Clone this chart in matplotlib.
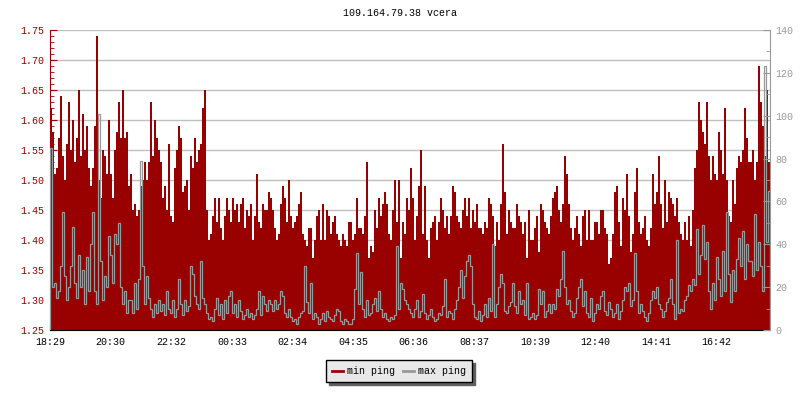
import matplotlib
matplotlib.use("Agg")
import matplotlib.pyplot as plt
import numpy as np

plt.rcParams['font.family'] = ['Liberation Mono', 'DejaVu Sans Mono']

title = "109.164.79.38 vcera"
start_label = "18:29"
tick_labels = ["18:29", "20:30", "22:32", "00:33", "02:34", "04:35",
               "06:36", "08:37", "10:39", "12:40", "14:41", "16:42"]
step_min = 4  # one sample every 4 minutes, 24 hours

# min ping (left axis)
min_ping = [
    1.62, 1.58, 1.51, 1.52, 1.57, 1.64, 1.54, 1.50, 1.56, 1.63,
    1.55, 1.60, 1.53, 1.57, 1.65, 1.54, 1.61, 1.55, 1.59, 1.52,
    1.49, 1.52, 1.59, 1.74, 1.50, 1.47, 1.55, 1.54, 1.51, 1.60,
    1.51, 1.47, 1.55, 1.58, 1.63, 1.57, 1.65, 1.57, 1.58, 1.49,
    1.51, 1.45, 1.46, 1.44, 1.45, 1.49, 1.50, 1.53, 1.50, 1.53,
    1.63, 1.54, 1.60, 1.57, 1.55, 1.53, 1.47, 1.49, 1.45, 1.56,
    1.44, 1.43, 1.52, 1.55, 1.59, 1.57, 1.48, 1.49, 1.50, 1.45,
    1.54, 1.52, 1.57, 1.53, 1.55, 1.56, 1.62, 1.65, 1.45, 1.40,
    1.41, 1.44, 1.47, 1.43, 1.47, 1.42, 1.40, 1.44, 1.47, 1.45,
    1.43, 1.47, 1.45, 1.46, 1.43, 1.46, 1.47, 1.42, 1.45, 1.44,
    1.46, 1.40, 1.44, 1.51, 1.43, 1.42, 1.46, 1.45, 1.45, 1.48,
    1.47, 1.45, 1.42, 1.40, 1.41, 1.46, 1.49, 1.47, 1.43, 1.50,
    1.44, 1.42, 1.43, 1.44, 1.46, 1.48, 1.41, 1.40, 1.39, 1.42,
    1.42, 1.37, 1.40, 1.44, 1.45, 1.40, 1.46, 1.40, 1.45, 1.44,
    1.41, 1.43, 1.44, 1.41, 1.40, 1.39, 1.41, 1.40, 1.39, 1.43,
    1.43, 1.40, 1.41, 1.47, 1.42, 1.42, 1.41, 1.44, 1.53, 1.37,
    1.39, 1.38, 1.45, 1.42, 1.47, 1.44, 1.46, 1.48, 1.46, 1.41,
    1.40, 1.45, 1.50, 1.43, 1.50, 1.37, 1.43, 1.41, 1.47, 1.45,
    1.52, 1.47, 1.40, 1.44, 1.49, 1.55, 1.41, 1.49, 1.40, 1.37,
    1.42, 1.43, 1.44, 1.40, 1.43, 1.47, 1.45, 1.42, 1.44, 1.41,
    1.44, 1.49, 1.48, 1.44, 1.43, 1.42, 1.45, 1.47, 1.44, 1.47,
    1.42, 1.45, 1.43, 1.46, 1.42, 1.42, 1.41, 1.43, 1.42, 1.47,
    1.46, 1.44, 1.39, 1.43, 1.40, 1.46, 1.56, 1.48, 1.41, 1.45,
    1.43, 1.42, 1.42, 1.46, 1.44, 1.43, 1.41, 1.43, 1.37, 1.45,
    1.40, 1.40, 1.42, 1.44, 1.38, 1.46, 1.45, 1.43, 1.42, 1.41,
    1.44, 1.47, 1.48, 1.49, 1.45, 1.43, 1.46, 1.54, 1.51, 1.46,
    1.42, 1.40, 1.42, 1.44, 1.41, 1.39, 1.44, 1.45, 1.40, 1.45,
    1.40, 1.40, 1.43, 1.43, 1.41, 1.45, 1.45, 1.42, 1.41, 1.36,
    1.37, 1.41, 1.48, 1.49, 1.43, 1.39, 1.47, 1.45, 1.51, 1.44,
    1.38, 1.41, 1.48, 1.52, 1.43, 1.41, 1.42, 1.44, 1.40, 1.39,
    1.42, 1.51, 1.46, 1.48, 1.54, 1.46, 1.42, 1.50, 1.43, 1.48,
    1.47, 1.46, 1.44, 1.47, 1.43, 1.41, 1.40, 1.43, 1.40, 1.44,
    1.39, 1.45, 1.52, 1.55, 1.63, 1.60, 1.58, 1.56, 1.63, 1.54,
    1.50, 1.54, 1.51, 1.50, 1.58, 1.55, 1.51, 1.62, 1.50, 1.44,
    1.43, 1.50, 1.46, 1.52, 1.54, 1.53, 1.55, 1.62, 1.57, 1.53,
    1.53, 1.55, 1.50, 1.53, 1.69, 1.63, 1.59, 1.54, 1.65, 1.53,
]

# max ping (right axis)
max_ping = [
    85, 20, 22, 15, 18, 30, 55, 25, 14, 20,
    30, 48, 22, 15, 35, 20, 28, 12, 34, 18,
    40, 55, 18, 12, 101, 32, 14, 25, 20, 44,
    35, 22, 45, 40, 50, 20, 12, 18, 8, 14,
    14, 8, 22, 10, 24, 79, 30, 12, 25, 15,
    10, 6, 12, 8, 14, 9, 12, 7, 18, 10,
    8, 14, 6, 10, 24, 12, 7, 14, 9, 11,
    30, 26, 16, 12, 10, 32, 15, 12, 8, 5,
    6, 4, 10, 15, 7, 12, 5, 14, 8, 16,
    18, 8, 12, 6, 14, 9, 5, 7, 10, 6,
    8, 5, 7, 10, 18, 7, 16, 12, 9, 14,
    12, 9, 14, 10, 12, 18, 16, 8, 6, 10,
    6, 4, 5, 3, 6, 8, 9, 30, 13, 8,
    22, 5, 8, 6, 3, 5, 8, 4, 9, 6,
    5, 4, 7, 10, 9, 4, 3, 5, 4, 3,
    3, 5, 19, 36, 12, 27, 10, 6, 14, 7,
    8, 12, 15, 9, 18, 10, 6, 8, 5, 4,
    6, 5, 7, 39, 10, 22, 19, 14, 12, 10,
    8, 6, 10, 14, 6, 9, 17, 8, 5, 7,
    10, 6, 4, 5, 8, 7, 11, 24, 6, 9,
    8, 5, 10, 14, 20, 28, 15, 25, 32, 35,
    30, 12, 6, 5, 9, 4, 7, 12, 6, 15,
    9, 40, 6, 12, 20, 26, 22, 9, 8, 11,
    13, 22, 11, 8, 18, 12, 14, 7, 22, 5,
    6, 8, 5, 7, 19, 12, 18, 6, 9, 12,
    8, 12, 10, 19, 16, 24, 37, 20, 12, 14,
    9, 6, 8, 15, 20, 24, 11, 18, 8, 6,
    15, 4, 8, 12, 10, 16, 18, 9, 7, 13,
    10, 6, 8, 12, 5, 9, 14, 20, 18, 22,
    11, 14, 36, 18, 8, 12, 9, 6, 4, 8,
    14, 18, 15, 20, 12, 10, 6, 9, 13, 15,
    24, 12, 5, 42, 8, 10, 9, 14, 16, 21,
    18, 24, 21, 47, 26, 35, 49, 33, 41, 18,
    10, 22, 14, 34, 24, 16, 37, 18, 55, 26,
    13, 28, 18, 33, 43, 30, 46, 24, 40, 32,
    32, 25, 54, 28, 41, 30, 18, 123, 41, 65,
]

red = '#990000'
grey = '#999999'

edges = np.arange(len(min_ping) + 1) * step_min


def minutes_from_start(label):
    h, m = map(int, label.split(':'))
    h0, m0 = map(int, start_label.split(':'))
    return (h * 60 + m - h0 * 60 - m0) % 1440


fig = plt.figure(figsize=(8, 4), dpi=100)
ax = fig.add_axes([50 / 800, 70 / 400, 720 / 800, 300 / 400])
ax2 = ax.twinx()

ax.stairs(min_ping, edges, baseline=1.25, fill=True, color=red, lw=0,
          label='min ping')
ax2.stairs(max_ping, edges, color=grey, lw=0.9, label='max ping')

ax.set_xlim(0, 1440)
ax.set_ylim(1.25, 1.75)
ax2.set_ylim(0, 140)

ax.set_yticks(np.arange(1.25, 1.751, 0.05))
ax.set_yticks(np.arange(1.25, 1.751, 0.01), minor=True)
ax.set_yticklabels(['%.2f' % v for v in np.arange(1.25, 1.751, 0.05)])
ax2.set_yticks(np.arange(0, 141, 20))
ax2.set_yticks(np.arange(0, 141, 10), minor=True)
ax.set_xticks([minutes_from_start(t) for t in tick_labels])
ax.set_xticklabels(tick_labels)

ax.yaxis.grid(True, color='#c0c0c0', lw=1)
ax.set_axisbelow(True)

for s in ['top', 'right']:
    ax.spines[s].set_visible(False)
for s in ['top', 'left', 'bottom']:
    ax2.spines[s].set_visible(False)
ax.spines['left'].set_color(red)
ax.spines['bottom'].set_color('black')
ax2.spines['right'].set_color(grey)

fs = 7.2
ax.tick_params(axis='y', which='both', direction='in', colors=red,
               labelsize=fs, pad=4)
ax.tick_params(axis='y', which='major', length=5)
ax.tick_params(axis='y', which='minor', length=3)
ax.tick_params(axis='x', direction='in', length=5, colors='black',
               labelsize=fs, pad=5)
ax2.tick_params(axis='y', which='both', direction='in', colors=grey,
                labelsize=fs, pad=4)
ax2.tick_params(axis='y', which='major', length=5)
ax2.tick_params(axis='y', which='minor', length=3)

fig.text(0.5, 1 - 13 / 400, title, ha='center', va='center', fontsize=fs)

h1 = plt.Line2D([], [], color=red, lw=2)
h2 = plt.Line2D([], [], color=grey, lw=2)
leg = fig.legend([h1, h2], ['min ping', 'max ping'], loc='center',
                 bbox_to_anchor=(399 / 800, 1 - 371 / 400), ncol=2,
                 fontsize=fs, frameon=True, fancybox=False,
                 shadow={'color': '#606060', 'alpha': 1},
                 handlelength=1.1, handletextpad=0.4, columnspacing=0.8,
                 borderpad=0.6, borderaxespad=0)
leg.get_frame().set_facecolor('#e8e8e8')
leg.get_frame().set_edgecolor('black')
leg.get_frame().set_linewidth(1)
leg.get_frame().set_alpha(1)

fig.savefig('out.png', dpi=100)
